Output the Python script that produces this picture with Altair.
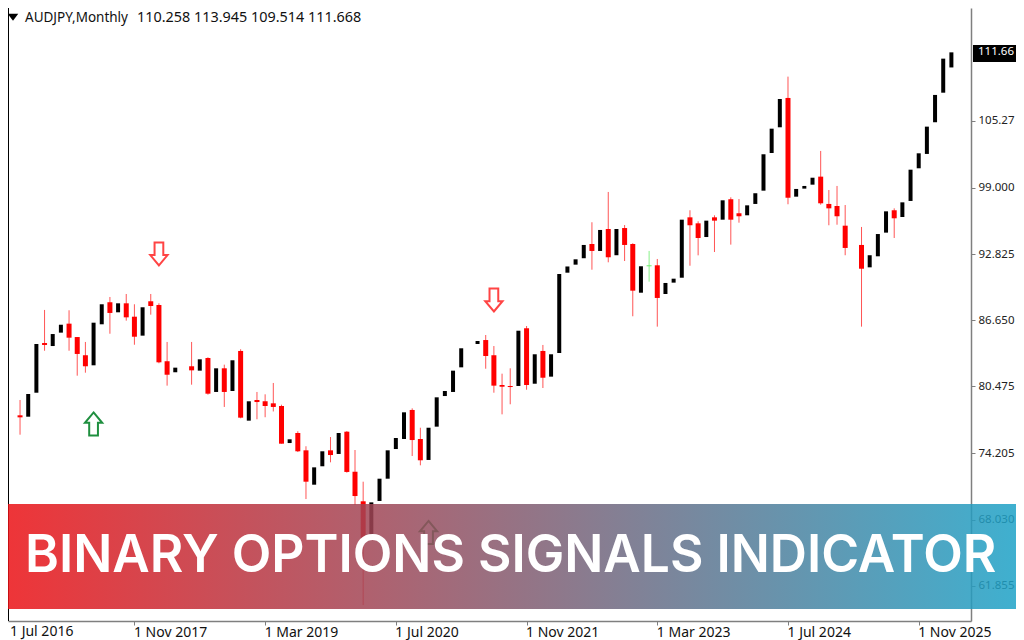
import json
import altair as alt
import pandas as pd

TITLE = "BINARY OPTIONS SIGNALS INDICATOR"
HEADER_NAME = "AUDJPY,Monthly"
HEADER_OHLC = "110.258 113.945 109.514 111.668"
X_TICK_LABELS = ["1 Jul 2016", "1 Nov 2017", "1 Mar 2019", "1 Jul 2020", "1 Nov 2021",
                 "1 Mar 2023", "1 Jul 2024", "1 Nov 2025"]
Y_TICKS = [105.27, 99.0, 92.825, 86.65, 80.475, 74.205, 68.03, 61.855]
Y_TICK_LABELS = ["105.27", "99.000", "92.825", "86.650", "80.475", "74.205", "68.030", "61.855"]
LAST_PRICE = 111.668
LAST_PRICE_LABEL = "111.66"

# candle kind by month index: b = black, r = red, g = green, None = nothing drawn
kinds = ["b",None,"r","b","b","r","b","b","r","r","r","b","b","r","b","r","r","b","r","r",
         "r","b",None,"r","b","r","b","r","b","r","b","r","r","r","r","b","r","r","b","b",
         "r","b","r","r","r","b","b","b","b","b","r","r","b","b","b","b","b",None,"b","r",
         "r","r","r","b","r","b","r","b","b","b","b","b","r","b","r","b","r","r","b","g",
         "r","b","b","b","r","r","b","r","b","r","r","b","b","b","b","b","r","b","b","b",
         "r","r","r","r",None,"r","b","b","b","r","b","b","b","b","b","b","b"]
body_top = [77.45,None,77.77,79.76,84.43,84.52,85.36,86.23,86.33,85.08,83.38,86.42,88.14,88.33,88.23,88.23,86.98,87.86,88.42,88.07,
            82.82,82.22,None,82.35,83.00,83.12,82.16,82.16,82.91,83.78,79.08,79.20,79.08,78.89,78.64,75.53,76.12,74.50,72.91,74.41,
            74.50,76.12,76.24,72.50,69.74,69.64,71.85,74.50,75.65,78.05,78.27,75.56,76.61,79.45,80.04,81.94,84.03,None,84.71,84.80,
            83.38,80.60,80.51,85.67,85.90,83.47,83.78,83.47,90.97,91.67,92.34,93.68,93.77,95.08,95.17,95.17,95.26,93.77,91.69,91.78,
            91.78,90.13,90.53,96.04,96.26,95.70,95.95,96.26,97.85,97.95,96.64,97.38,98.51,102.15,104.54,107.31,107.41,98.91,99.19,99.96,
            100.06,97.51,97.32,95.48,None,93.68,92.72,94.70,96.82,96.92,97.66,100.71,102.24,104.73,107.69,111.08,111.668]
body_bottom = [76.93,None,77.58,77.64,79.88,84.34,84.24,85.49,85.02,83.50,82.35,82.44,86.27,87.33,87.39,86.92,85.11,85.21,87.98,82.72,
               81.56,81.79,None,81.97,81.94,79.79,79.95,79.95,80.04,77.55,77.27,79.01,78.64,78.55,75.12,75.18,74.41,71.57,71.29,73.01,
               74.06,74.16,72.48,70.23,66.25,66.28,69.77,71.85,74.62,75.56,75.46,73.57,73.60,76.71,79.57,79.95,82.25,None,84.43,83.31,
               80.54,80.44,80.41,80.51,80.60,80.72,81.28,81.38,83.59,91.09,91.84,92.44,93.12,93.12,92.53,92.72,93.68,89.41,89.22,91.69,
               88.73,89.10,90.16,90.62,95.52,94.33,94.42,95.95,96.04,96.04,96.36,96.45,97.51,98.75,102.27,104.67,98.09,98.19,98.94,99.31,
               97.57,97.10,96.36,93.40,None,91.46,91.59,92.62,94.83,96.17,96.29,97.79,100.84,102.18,105.14,107.90,110.258]
# shadows are only visible on red and green candles; the black ones show none
highs = {2:79.20,5:87.61,8:87.58,9:85.08,10:84.62,13:88.82,15:89.10,16:88.14,18:89.10,19:88.23,20:84.62,23:84.62,25:83.19,27:82.50,
         29:83.94,31:79.95,32:79.73,33:80.79,34:78.76,36:76.28,37:74.88,40:75.74,42:76.30,43:74.53,44:71.57,50:78.42,51:76.61,
         59:85.27,60:84.24,61:81.66,62:82.16,64:86.11,66:84.34,72:95.80,74:98.63,76:95.54,77:93.84,79:93.12,80:92.37,84:96.92,
         85:95.89,87:96.45,89:98.13,90:97.97,96:109.40,100:102.46,101:98.81,102:99.19,103:97.41,105:95.36,109:97.10}
lows = {2:75.96,5:83.80,8:83.80,9:81.47,10:81.75,13:85.39,15:86.61,16:84.36,18:87.17,19:82.63,20:80.54,23:80.63,25:79.70,27:78.55,
        29:77.49,31:77.40,32:77.59,33:78.13,34:75.12,36:74.34,37:69.95,40:73.38,42:72.41,43:69.39,44:60.05,50:73.97,51:73.10,
        59:82.12,60:79.88,61:77.86,62:78.80,64:80.16,66:80.32,72:91.37,74:92.06,76:92.18,77:87.02,79:90.25,80:86.05,84:91.74,
        85:92.71,87:93.02,89:93.71,90:95.76,96:97.48,100:97.44,101:95.52,102:95.57,103:92.72,105:86.05,109:94.33}

arrow_up_idx, arrow_up_price = [11, 52], [76.96, 66.83]
arrow_dn_idx, arrow_dn_price = [19, 60], [92.84, 88.54]

rows = []
for i, k in enumerate(kinds):
    if k is None:
        continue
    rows.append({"idx": i, "kind": k, "top": body_top[i], "bottom": body_bottom[i],
                 "high": highs.get(i, body_top[i]), "low": lows.get(i, body_bottom[i])})
df = pd.DataFrame(rows)

xs = alt.Scale(domain=[0.526, 118.40], nice=False, zero=False, padding=0)
ys = alt.Scale(domain=[58.56, 115.81], nice=False, zero=False)

labels_js = json.dumps(X_TICK_LABELS)
y_labels_js = json.dumps({"%g" % v: s for v, s in zip(Y_TICKS, Y_TICK_LABELS)})
FONT = "Noto Sans"
Y_LABEL_SIZE = 11.5
X_LABEL_SIZE = 14

x_axis = alt.Axis(
    values=[16 * n for n in range(1, 8)], labelExpr=f"{labels_js}[datum.value/16]", title=None,
    grid=False, domainColor="#7f7f7f", domainWidth=1.5, tickColor="#7f7f7f", tickSize=4,
    labelAlign="left", labelOffset=-1, labelPadding=0, labelFont=FONT, labelFontSize=X_LABEL_SIZE,
    labelColor="#111111", labelBaseline="top", labelOverlap=False, labelBound=False, labelFlush=False)
y_axis = alt.Axis(
    orient="right", values=Y_TICKS, labelExpr=f"{y_labels_js}[''+datum.value]", title=None,
    grid=False, domainColor="#7f7f7f", domainWidth=1.5, tickColor="#7f7f7f", tickSize=4,
    labelPadding=3, labelFont=FONT, labelFontSize=Y_LABEL_SIZE, labelColor="#222222",
    labelOverlap=False, labelBound=False, labelFlush=False)

X = alt.X("idx:Q", scale=xs, axis=x_axis)
Y = lambda f: alt.Y(f, type="quantitative", scale=ys, axis=y_axis)

wicks = alt.Chart(df).transform_filter("datum.kind != 'b'").mark_rule(strokeWidth=1).encode(
    x=X, y=Y("low"), y2="high:Q", stroke=alt.Stroke("kind:N", legend=None,
        scale=alt.Scale(domain=["r", "g"], range=["#ff5555", "#88f088"])))
red_bodies = alt.Chart(df).transform_filter("datum.kind == 'r'").mark_bar(size=5, color="#ff0000").encode(
    x=X, y=Y("bottom"), y2="top:Q")
black_bodies = alt.Chart(df).transform_filter("datum.kind == 'b'").mark_bar(size=4, color="#000000").encode(
    x=X, y=Y("bottom"), y2="top:Q")
green_bodies = alt.Chart(df).transform_filter("datum.kind == 'g'").mark_bar(size=5, color="#66ee66").encode(
    x=X, y=Y("bottom"), y2="top:Q")

UP = "M0,-1L0.75,-0.1L0.38,-0.1L0.38,1L-0.38,1L-0.38,-0.1L-0.75,-0.1Z"
DN = "M0,1L0.75,0.1L0.38,0.1L0.38,-1L-0.38,-1L-0.38,0.1L-0.75,0.1Z"
up = alt.Chart(pd.DataFrame({"idx": arrow_up_idx, "p": arrow_up_price})).mark_point(
    shape=UP, size=529, filled=False, stroke="#1f8f3f", strokeWidth=2, fill="#ffffff", fillOpacity=1, opacity=1
).encode(x=X, y=Y("p"))
dn = alt.Chart(pd.DataFrame({"idx": arrow_dn_idx, "p": arrow_dn_price})).mark_point(
    shape=DN, size=529, filled=False, stroke="#ff4444", strokeWidth=2, fill="#ffffff", fillOpacity=1, opacity=1
).encode(x=X, y=Y("p"))

one = pd.DataFrame({"t": [HEADER_NAME]})
left_line = alt.Chart(one).mark_rule(color="#000000", strokeWidth=1).encode(
    x=alt.value(0.5), y=alt.value(0), y2=alt.value(613))
tri = alt.Chart(one).mark_point(shape="M-1,-0.6L1,-0.6L0,0.7Z", size=110, filled=True, color="#000000", opacity=1).encode(
    x=alt.value(5), y=alt.value(9))
header = alt.Chart(one).mark_text(align="left", baseline="middle", font=FONT, fontSize=13.5, color="#111111").encode(
    x=alt.value(17), y=alt.value(10), text="t:N")
header2 = alt.Chart(pd.DataFrame({"t": [HEADER_OHLC]})).mark_text(
    align="left", baseline="middle", font=FONT, fontSize=14.4, color="#111111").encode(
    x=alt.value(129), y=alt.value(10), text="t:N")
first_lab = alt.Chart(pd.DataFrame({"t": [X_TICK_LABELS[0]]})).mark_text(
    align="left", baseline="top", font=FONT, fontSize=X_LABEL_SIZE, color="#111111").encode(
    x=alt.value(2), y=alt.value(617), text="t:N")

tag = alt.Chart(one).mark_rect(color="#000000").encode(
    x=alt.value(965), x2=alt.value(1008), y=alt.value(37), y2=alt.value(54))
tag_text = alt.Chart(pd.DataFrame({"t": [LAST_PRICE_LABEL], "p": [LAST_PRICE]})).mark_text(
    align="left", baseline="middle", font=FONT, fontSize=Y_LABEL_SIZE, color="#ffffff").encode(
    x=alt.value(970), y=Y("p"), text="t:N")

banner = alt.Chart(one).mark_rect(
    opacity=0.85,
    color=alt.Gradient(gradient="linear", x1=0, x2=1, y1=0, y2=0,
                       stops=[alt.GradientStop(color="#eb1115", offset=0),
                              alt.GradientStop(color="#1da2c7", offset=1)])
).encode(x=alt.value(0), x2=alt.value(1008), y=alt.value(496), y2=alt.value(601))
title = alt.Chart(pd.DataFrame({"t": [TITLE]})).mark_text(
    align="left", baseline="alphabetic", font="Inter", fontSize=51.5, fontWeight=600, color="#ffffff").encode(
    x=alt.value(17), y=alt.value(564), text="t:N")

chart = alt.layer(left_line, wicks, red_bodies, black_bodies, green_bodies, up, dn, tri, header, header2, first_lab,
                  tag, tag_text, banner, title).properties(
    width=963, height=613,
    padding={"left": 0, "top": 0, "right": 45, "bottom": 19},
    autosize=alt.AutoSizeParams(type="none"),
    background="#ffffff",
).configure_view(stroke=None)

chart.save("out.html", embed_options={"renderer": "svg", "actions": False})
